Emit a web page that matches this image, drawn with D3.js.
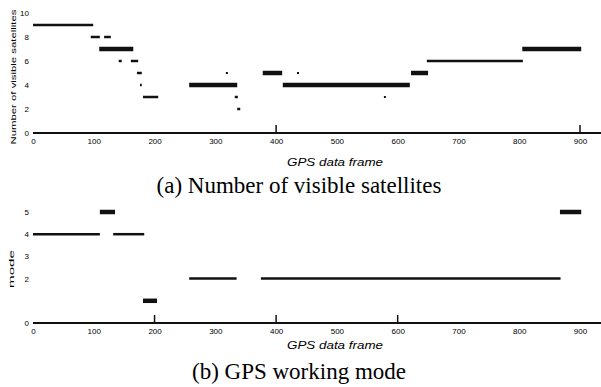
<!DOCTYPE html>
<html>
<head>
<meta charset="utf-8">
<script src="https://cdn.jsdelivr.net/npm/d3@7"></script>
<style>
  body { margin: 0; background: #fff; }
  svg { display: block; }
  .tick text { font-family: Arial, "Liberation Sans", sans-serif; font-size: 8px; fill: #000; }
</style>
</head>
<body>
<svg id="chart" width="601" height="387"></svg>
<script>
// ---- data: (a) number of visible satellites, segments [startFrame, endFrame, value]
const satSegments = [
  [0, 99, 9], [95, 110, 8], [117, 128, 8], [109, 165, 7],
  [141, 146, 6], [161, 173, 6], [171, 179, 5], [176, 179, 4],
  [181, 206, 3], [257, 336, 4], [332, 337, 3], [336, 341, 2],
  [378, 410, 5], [411, 620, 4], [622, 650, 5], [648, 806, 6], [805, 902, 7]
];
const satThick = [3, 9, 12, 13, 14, 16];
const satDots = [[319, 5], [436, 5], [579, 3]];
const satYTicks = [0, 2, 4, 6, 8, 10];
const satXTicks = [0, 100, 200, 300, 400, 500, 600, 700, 800, 900];
const satTickMarks = [400, 900];

// ---- data: (b) GPS working mode
const modeSegments = [
  [0, 110, 4], [110, 135, 5], [132, 183, 4], [181, 204, 1],
  [257, 335, 2], [375, 868, 2], [867, 902, 5]
];
const modeThick = [1, 3, 6];
const modeYTicks = [0, 2, 3, 4, 5];
const modeXTicks = [0, 100, 200, 300, 400, 500, 600, 700, 800, 900];
const modeTickMarks = [200, 400, 600];

const svg = d3.select('#chart');
const x = d3.scaleLinear().domain([0, 900]).range([33, 580]);

function panel(cfg) {
  const g = svg.append('g');
  const y = d3.scaleLinear().domain(cfg.yDomain).range(cfg.yRange);
  const base = cfg.yRange[0];

  // x axis labels
  g.append('g')
    .attr('transform', 'translate(0,' + base + ')')
    .call(d3.axisBottom(x).tickValues(cfg.xTicks).tickSize(0).tickPadding(5).tickFormat(d3.format('d')))
    .call(a => a.select('.domain').remove());

  // axis line running to the edge
  g.append('line')
    .attr('x1', x(0)).attr('x2', 601)
    .attr('y1', base).attr('y2', base)
    .attr('stroke', '#111').attr('stroke-width', 2);

  g.selectAll('line.tm').data(cfg.tickMarks).join('line')
    .attr('class', 'tm')
    .attr('x1', d => x(d)).attr('x2', d => x(d))
    .attr('y1', base).attr('y2', base - 8)
    .attr('stroke', '#111').attr('stroke-width', 1.5);

  // y labels
  g.append('g')
    .attr('transform', 'translate(' + 31 + ',0)')
    .call(d3.axisLeft(y).tickValues(cfg.yTicks).tickSize(0).tickPadding(2).tickFormat(d3.format('d')))
    .call(a => a.select('.domain').remove());

  // segments
  g.selectAll('line.seg').data(cfg.segments).join('line')
    .attr('class', 'seg')
    .attr('x1', d => x(d[0])).attr('x2', d => x(d[1]))
    .attr('y1', d => y(d[2])).attr('y2', d => y(d[2]))
    .attr('stroke', '#111')
    .attr('stroke-width', (d, i) => cfg.thick.includes(i) ? 4.5 : 2.5);

  g.selectAll('rect.dot').data(cfg.dots || []).join('rect')
    .attr('class', 'dot')
    .attr('x', d => x(d[0]) - 1).attr('y', d => y(d[1]) - 1)
    .attr('width', 2).attr('height', 2).attr('fill', '#111');

  // x title
  g.append('text')
    .attr('x', 335).attr('y', cfg.xTitleY)
    .attr('text-anchor', 'middle')
    .attr('font-family', 'Arial, "Liberation Sans", sans-serif')
    .attr('font-style', 'italic').attr('font-size', 10)
    .attr('textLength', 96).attr('lengthAdjust', 'spacingAndGlyphs')
    .text('GPS data frame');

  // y title
  g.append('text')
    .attr('transform', 'translate(' + cfg.yTitleX + ',' + cfg.yTitleMid + ') rotate(-90)')
    .attr('text-anchor', 'middle')
    .attr('font-family', 'Arial, "Liberation Sans", sans-serif')
    .attr('font-size', 8)
    .attr('textLength', cfg.yTitleLen).attr('lengthAdjust', 'spacingAndGlyphs')
    .text(cfg.yTitle);

  // caption
  g.append('text')
    .attr('x', 299).attr('y', cfg.captionY)
    .attr('text-anchor', 'middle')
    .attr('font-family', '"Liberation Serif", "Times New Roman", serif')
    .attr('font-size', 23)
    .text(cfg.caption);
}

panel({
  yDomain: [0, 10], yRange: [133, 13],
  xTicks: satXTicks, yTicks: satYTicks, tickMarks: satTickMarks,
  segments: satSegments, thick: satThick, dots: satDots,
  xTitleY: 166, yTitle: 'Number of visible satellites', yTitleX: 16, yTitleMid: 77, yTitleLen: 135,
  caption: '(a) Number of visible satellites', captionY: 193
});

panel({
  yDomain: [0, 5], yRange: [323, 212],
  xTicks: modeXTicks, yTicks: modeYTicks, tickMarks: modeTickMarks,
  segments: modeSegments, thick: modeThick,
  xTitleY: 349, yTitle: 'mode', yTitleX: 14, yTitleMid: 269, yTitleLen: 38,
  caption: '(b) GPS working mode', captionY: 379
});
</script>
</body>
</html>
